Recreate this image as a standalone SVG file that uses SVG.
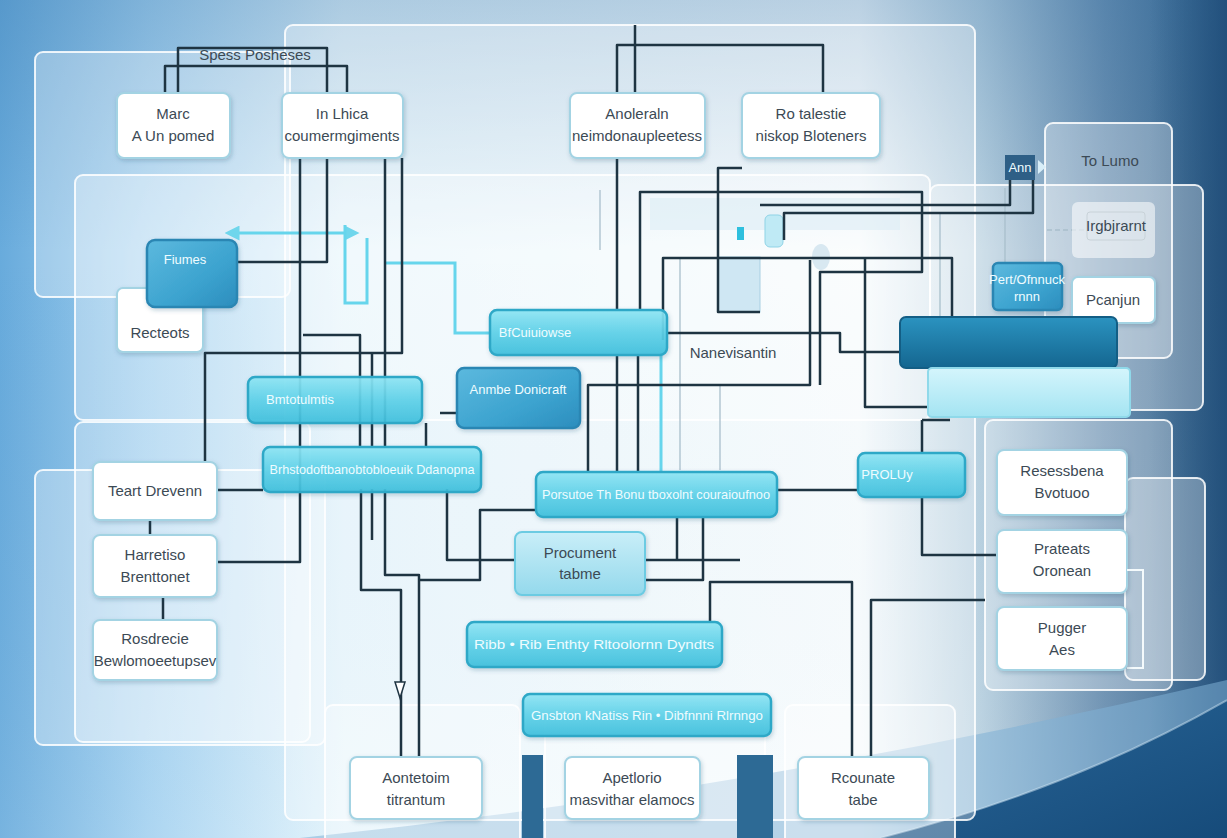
<svg xmlns="http://www.w3.org/2000/svg" width="1227" height="838" viewBox="0 0 1227 838">
<defs>
<linearGradient id="bgH" x1="0" y1="0" x2="1" y2="0">
<stop offset="0" stop-color="#68abdc"/><stop offset="0.12" stop-color="#a3d1f0"/><stop offset="0.28" stop-color="#e2f3fb"/><stop offset="0.7" stop-color="#f6fbfd"/><stop offset="0.8" stop-color="#b9d1e0"/><stop offset="0.9" stop-color="#6a8fb0"/><stop offset="1" stop-color="#2d5c85"/>
</linearGradient>
<linearGradient id="bgV" x1="0" y1="0" x2="0" y2="1">
<stop offset="0" stop-color="#2f6ea5" stop-opacity="0.3"/><stop offset="0.3" stop-color="#2f6ea5" stop-opacity="0"/><stop offset="1" stop-color="#ffffff" stop-opacity="0.1"/>
</linearGradient>
<linearGradient id="edge" x1="0" y1="0" x2="1" y2="0">
<stop offset="0" stop-color="#2a5882" stop-opacity="0"/><stop offset="1" stop-color="#1f4c78" stop-opacity="0.8"/>
</linearGradient>
<linearGradient id="swoosh" x1="0" y1="0" x2="1" y2="1">
<stop offset="0" stop-color="#2a6799"/><stop offset="1" stop-color="#164b7a"/>
</linearGradient>
<linearGradient id="cyanG" x1="0" y1="0" x2="0" y2="1">
<stop offset="0" stop-color="#8fe6f5"/><stop offset="0.5" stop-color="#5fd2e9"/><stop offset="1" stop-color="#3fc0dd"/>
</linearGradient>
<linearGradient id="blueG" x1="0" y1="0" x2="1" y2="1">
<stop offset="0" stop-color="#5cb9de"/><stop offset="0.6" stop-color="#3ca3cf"/><stop offset="1" stop-color="#2c8dbd"/>
</linearGradient>
<linearGradient id="darkG" x1="0" y1="0" x2="0" y2="1">
<stop offset="0" stop-color="#2b93c0"/><stop offset="1" stop-color="#146690"/>
</linearGradient>
<linearGradient id="lightBarG" x1="0" y1="0" x2="0" y2="1">
<stop offset="0" stop-color="#d4f5fc"/><stop offset="1" stop-color="#a4e4f2"/>
</linearGradient>
<linearGradient id="procG" x1="0" y1="0" x2="0" y2="1">
<stop offset="0" stop-color="#c9eef8"/><stop offset="1" stop-color="#94d9ec"/>
</linearGradient>
<filter id="sh" x="-10%" y="-10%" width="120%" height="130%">
<feDropShadow dx="1" dy="2" stdDeviation="2" flood-color="#1b4d6e" flood-opacity="0.25"/>
</filter>
<marker id="ah" viewBox="0 0 10 10" refX="5" refY="5" markerWidth="5" markerHeight="5" orient="auto-start-reverse">
<path d="M0,0 L10,5 L0,10 z" fill="#6fd6ec"/>
</marker>
<style>
.panel{fill:#ffffff;fill-opacity:0.3;stroke:#ffffff;stroke-opacity:0.85;stroke-width:2}
.wb{fill:#ffffff;stroke:#a3d3e3;stroke-width:2;filter:url(#sh)}
.cy{fill:url(#cyanG);fill-opacity:0.92;stroke:#2ea8c7;stroke-width:2.5;filter:url(#sh)}
.bl{fill:url(#blueG);stroke:#2b86b3;stroke-width:2.5;filter:url(#sh)}
.t{font-family:"Liberation Sans",Arial,sans-serif;font-size:15px;fill:#3c4a55;text-anchor:middle}
.tw{font-family:"Liberation Sans",Arial,sans-serif;font-size:13px;fill:#effcff;text-anchor:middle}
.c{fill:none;stroke:#1e3442;stroke-width:2.5;stroke-linejoin:round}
.cl{fill:none;stroke:#a9bfcc;stroke-width:1.3}
.cc{fill:none;stroke:#66d5ec;stroke-width:3}
</style>
</defs>

<!-- background -->
<rect x="0" y="0" width="1227" height="838" fill="url(#bgH)"/>
<rect x="0" y="0" width="1227" height="838" fill="url(#bgV)"/>
<rect x="1150" y="0" width="77" height="838" fill="url(#edge)"/>
<path d="M300,838 Q760,790 1227,680 L1227,838 Z" fill="#7fb0d6" fill-opacity="0.55"/>
<path d="M880,838 Q1070,790 1227,700 L1227,838 Z" fill="url(#swoosh)"/>
<path d="M880,838 Q1070,790 1227,700" fill="none" stroke="#cfe6f4" stroke-width="2" stroke-opacity="0.5"/>

<!-- panels -->
<g id="panels">
<rect class="panel" x="35" y="52" width="255" height="245" rx="8"/>
<rect class="panel" x="35" y="470" width="290" height="275" rx="8" fill-opacity="0.15"/>
<rect class="panel" x="285" y="25" width="690" height="795" rx="8" fill-opacity="0.8"/>
<rect class="panel" x="75" y="175" width="855" height="245" rx="8" fill-opacity="0.22"/>
<rect class="panel" x="75" y="422" width="235" height="320" rx="8" fill-opacity="0.25"/>
<rect class="panel" x="325" y="705" width="195" height="150" rx="8" fill="#d7ecf7" fill-opacity="0.5"/>
<rect class="panel" x="545" y="705" width="220" height="150" rx="8" fill="#d7ecf7" fill-opacity="0.5"/>
<rect class="panel" x="785" y="705" width="170" height="150" rx="8" fill="#d7ecf7" fill-opacity="0.5"/>
<rect class="panel" x="1045" y="123" width="127" height="235" rx="8" fill-opacity="0.4"/>
<rect class="panel" x="930" y="185" width="273" height="225" rx="8" fill-opacity="0.3"/>
<rect class="panel" x="985" y="420" width="187" height="270" rx="8" fill-opacity="0.3"/>
<rect class="panel" x="1125" y="478" width="80" height="202" rx="8" fill-opacity="0.2"/>
<rect x="522" y="755" width="21" height="83" fill="#2d6a95"/>
<rect x="737" y="755" width="36" height="83" fill="#2d6a95"/>
</g>

<!-- faint decorations -->
<g id="decor">
<rect x="650" y="198" width="250" height="32" fill="#dcecf5" fill-opacity="0.6"/>
<rect x="718" y="257" width="42" height="55" fill="#cfe7f3" stroke="#a9cfe2"/>
<rect x="765" y="215" width="18" height="32" rx="5" fill="#bfeaf5" stroke="#8fd3e6"/>
<rect x="737" y="227" width="7" height="13" fill="#2fc0de"/>
<ellipse cx="821" cy="257" rx="9" ry="13" fill="#d8e8f1"/>
</g>

<!-- connectors -->
<g id="connectors">
<path class="cl" d="M600,190 V250 M680,258 V470 M720,385 V470 M940,212 V318 M1005,188 V265 M1090,310 V320"/>
<path class="cl" d="M1047,230 H1085" stroke-dasharray="5,3" stroke="#8fd3e6"/>
<path class="cc" d="M385,263 H455 V333 H490"/>
<path class="cc" d="M661,355 V472"/>
<path class="cc" d="M232,233 H352" stroke-width="2.5" marker-start="url(#ah)" marker-end="url(#ah)"/>
<path class="cc" d="M345,225 V303 H367 V238" stroke="#8fd7e8" stroke-width="2"/>
<path class="c" d="M178,93 V48 H327 V93"/>
<path class="c" d="M165,93 V66 H347 V93"/>
<path class="c" d="M300,158 V562 H217"/>
<path class="c" d="M327,158 V262 H237"/>
<path class="c" d="M402,158 V353 H205 V462"/>
<path class="c" d="M385,158 V447"/>
<path class="c" d="M303,335 H360 V447"/>
<path class="c" d="M372,353 V447"/>
<path class="c" d="M426,423 V447"/>
<path class="c" d="M361,489 V590 H401 V757"/>
<path class="c" d="M385,489 V575 H419 V757"/>
<path class="c" d="M372,489 V540"/>
<path class="c" d="M447,489 V560 H515"/>
<path class="c" d="M217,490 H263"/>
<path class="c" d="M150,520 V535 M163,597 V620"/>
<path class="c" d="M419,580 H480 V510 H536"/>
<path class="c" d="M588,472 V385 H810 V260"/>
<path class="c" d="M617,93 V45 H823 V93"/>
<path class="c" d="M635,93 V25"/>
<path class="c" d="M617,158 V310 M617,355 V472 M638,355 V472"/>
<path class="c" d="M640,310 V192 H922 V272 H820 V385"/>
<path class="c" d="M742,168 H718 V312 H760"/>
<path class="c" d="M760,205 H1010 V180"/>
<path class="c" d="M784,240 V213 H1033 V180"/>
<path class="c" d="M663,340 V258 H952 V317"/>
<path class="c" d="M667,333 H840 V352 H900"/>
<path class="c" d="M865,258 V407 H928"/>
<path class="c" d="M922,420 V453 M922,420 H950"/>
<path class="c" d="M922,497 V555 H997"/>
<path class="c" d="M777,490 H858"/>
<path class="c" d="M645,560 H740 M677,560 V517 M645,580 H703 V517"/>
<path class="c" d="M710,622 V582 H852 V757"/>
<path class="c" d="M871,757 V600 H985"/>
<path class="c" d="M440,413 H457"/>
<path d="M395,682 L405,682 L400,698 Z" fill="#ffffff" stroke="#1e3442" stroke-width="1.5"/>
<path d="M611,548 L619,548 L615,536 Z" fill="#4fc4dc"/>
</g>

<!-- nodes -->
<g id="n-spess"><text class="t" x="255" y="60" font-size="12">Spess Posheses</text></g>
<g id="n-marc"><rect class="wb" x="117" y="93" width="113" height="65" rx="7"/><text class="t" x="173" y="119">Marc</text><text class="t" x="173" y="141">A Un pomed</text></g>
<g id="n-inlhica"><rect class="wb" x="282" y="93" width="121" height="65" rx="7"/><text class="t" x="342" y="119">In Lhica</text><text class="t" x="342" y="141">coumermgiments</text></g>
<g id="n-anoleraln"><rect class="wb" x="570" y="93" width="135" height="65" rx="7"/><text class="t" x="637" y="119">Anoleraln</text><text class="t" x="637" y="141">neimdonaupleetess</text></g>
<g id="n-ro"><rect class="wb" x="742" y="93" width="138" height="65" rx="7" fill="#f3fbfe"/><text class="t" x="811" y="119">Ro talestie</text><text class="t" x="811" y="141">niskop Bloteners</text></g>
<g id="n-tolumo"><text class="t" x="1110" y="166">To Lumo</text></g>
<g id="n-ann"><rect x="1005" y="155" width="30" height="25" fill="#2e5f86"/><text class="tw" x="1020" y="172" font-size="12">Ann</text><path d="M1038,160 L1046,167 L1038,174 Z" fill="#d8eef8"/></g>
<g id="n-irgb"><rect x="1072" y="202" width="83" height="56" rx="6" fill="#ffffff" fill-opacity="0.55"/><rect x="1087" y="212" width="58" height="28" rx="3" fill="none" stroke="#c8d2d8"/><text class="t" x="1116" y="231" font-size="12" fill="#9aa6ad">Irgbjrarnt</text></g>
<g id="n-pcanjun"><rect class="wb" x="1072" y="277" width="83" height="46" rx="6" fill="#f4f8fa"/><text class="t" x="1113" y="305">Pcanjun</text></g>
<g id="n-pert"><rect class="bl" x="993" y="263" width="69" height="47" rx="5"/><text class="tw" x="1027" y="284" font-size="11">Pert/Ofnnuck</text><text class="tw" x="1027" y="301" font-size="11">rnnn</text></g>
<g id="n-darkbar"><rect x="900" y="317" width="217" height="51" rx="6" fill="url(#darkG)" stroke="#135e85" stroke-width="2"/></g>
<g id="n-lightbar"><rect x="928" y="368" width="202" height="49" rx="4" fill="url(#lightBarG)" stroke="#8fd9ea" stroke-width="2"/></g>
<g id="n-recteots"><rect class="wb" x="117" y="288" width="86" height="64" rx="6"/><text class="t" x="160" y="338">Recteots</text></g>
<g id="n-fiumes"><rect class="bl" x="147" y="240" width="90" height="67" rx="8"/><text class="tw" x="185" y="264" font-size="14">Fiumes</text></g>
<g id="n-bmto"><rect class="cy" x="248" y="377" width="174" height="46" rx="7"/><text class="tw" x="300" y="404">Bmtotulmtis</text></g>
<g id="n-bf"><rect class="cy" x="490" y="310" width="177" height="45" rx="7"/><text class="tw" x="535" y="337">BfCuiuiowse</text></g>
<g id="n-anmbe"><rect class="bl" x="457" y="368" width="123" height="60" rx="7"/><text class="tw" x="518" y="394" font-size="14">Anmbe Donicraft</text></g>
<g id="n-nanev"><text class="t" x="733" y="358" font-size="14">Nanevisantin</text></g>
<g id="n-brhst"><rect class="cy" x="263" y="447" width="218" height="45" rx="7"/><text class="tw" x="372" y="474" textLength="205" lengthAdjust="spacingAndGlyphs">Brhstodoftbanobtobloeuik Ddanopna</text></g>
<g id="n-porsutoe"><rect class="cy" x="536" y="472" width="241" height="45" rx="7"/><text class="tw" x="656" y="499" textLength="228" lengthAdjust="spacingAndGlyphs">Porsutoe Th Bonu tboxolnt couraioufnoo</text></g>
<g id="n-proluy"><rect class="cy" x="858" y="453" width="107" height="44" rx="7"/><text class="tw" x="887" y="479">PROLUy</text></g>
<g id="n-procument"><rect x="515" y="532" width="130" height="63" rx="7" fill="url(#procG)" stroke="#6ccbe2" stroke-width="2" filter="url(#sh)"/><text class="t" x="580" y="558">Procument</text><text class="t" x="580" y="579">tabme</text></g>
<g id="n-ribb"><rect class="cy" x="467" y="622" width="255" height="45" rx="7"/><text class="tw" x="594" y="649" textLength="240" lengthAdjust="spacingAndGlyphs">Ribb • Rib Enthty Rltoolornn Dyndts</text></g>
<g id="n-gnsbton"><rect class="cy" x="523" y="694" width="248" height="42" rx="7"/><text class="tw" x="647" y="720" textLength="232" lengthAdjust="spacingAndGlyphs">Gnsbton kNatiss Rin • Dibfnnni Rlrnngo</text></g>
<g id="n-teart"><rect class="wb" x="93" y="462" width="124" height="58" rx="7"/><text class="t" x="155" y="496">Teart Drevenn</text></g>
<g id="n-harretiso"><rect class="wb" x="93" y="535" width="124" height="62" rx="7"/><text class="t" x="155" y="560">Harretiso</text><text class="t" x="155" y="582">Brenttonet</text></g>
<g id="n-rosdrecie"><rect class="wb" x="93" y="620" width="124" height="60" rx="7"/><text class="t" x="155" y="644">Rosdrecie</text><text class="t" x="155" y="666">Bewlomoeetupsev</text></g>
<g id="n-resess"><rect class="wb" x="997" y="450" width="130" height="65" rx="7"/><text class="t" x="1062" y="476">Resessbena</text><text class="t" x="1062" y="498">Bvotuoo</text></g>
<g id="n-prateats"><rect class="wb" x="997" y="530" width="130" height="63" rx="7"/><text class="t" x="1062" y="554">Prateats</text><text class="t" x="1062" y="576">Oronean</text></g>
<path d="M1127,570 H1143 V668 H1127" fill="none" stroke="#f4fafc" stroke-width="2"/>
<g id="n-pugger"><rect class="wb" x="997" y="607" width="130" height="63" rx="7" fill="#eef6f9"/><text class="t" x="1062" y="633">Pugger</text><text class="t" x="1062" y="655">Aes</text></g>
<g id="n-aontetoim"><rect class="wb" x="350" y="757" width="132" height="62" rx="7"/><text class="t" x="416" y="783">Aontetoim</text><text class="t" x="416" y="805">titrantum</text></g>
<g id="n-apetlorio"><rect class="wb" x="565" y="757" width="135" height="62" rx="7"/><text class="t" x="632" y="783">Apetlorio</text><text class="t" x="632" y="805">masvithar elamocs</text></g>
<g id="n-rcounate"><rect class="wb" x="798" y="757" width="131" height="62" rx="7"/><text class="t" x="863" y="783">Rcounate</text><text class="t" x="863" y="805">tabe</text></g>
</svg>
